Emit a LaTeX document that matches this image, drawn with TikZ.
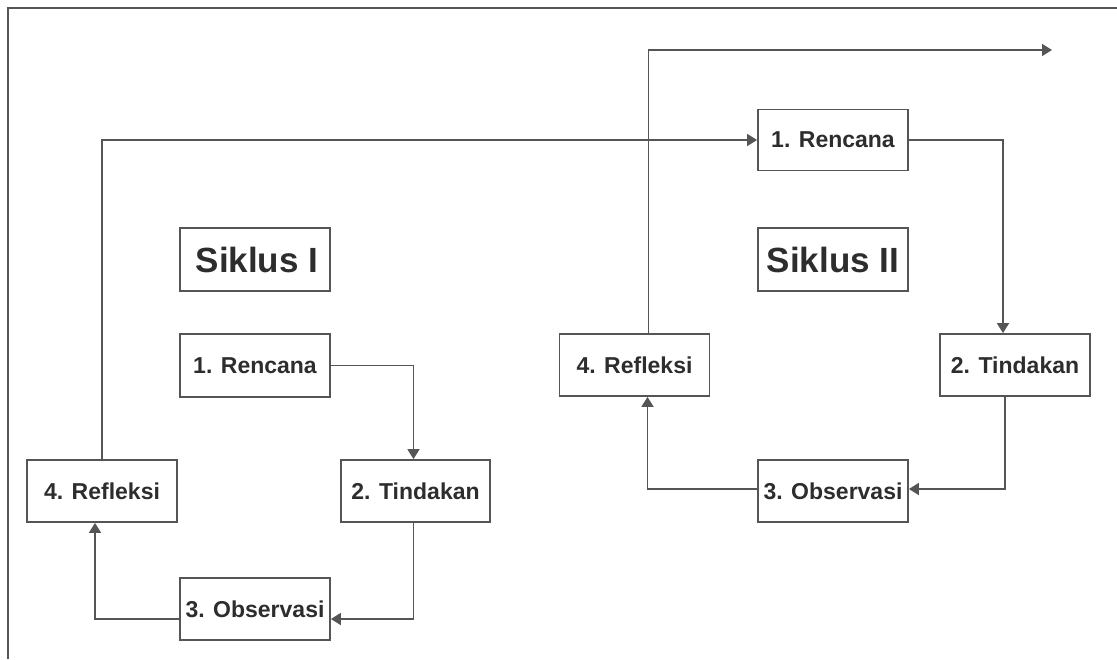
\documentclass[tikz,border=0pt]{standalone}
\usepackage{fontspec}
\setmainfont{Liberation Sans}
\usetikzlibrary{arrows.meta,calc}
\definecolor{linec}{RGB}{85,85,85}
\definecolor{textc}{RGB}{45,45,45}
\begin{document}
\begin{tikzpicture}[x=1pt,y=-1pt,
  box/.style={draw=linec,line width=1.8pt,minimum width=150pt,minimum height=62pt,inner sep=0pt,
    text=textc,font=\fontsize{23}{27}\selectfont\bfseries},
  title/.style={box,minimum height=63pt,font=\fontsize{35}{40}\selectfont\bfseries},
  conn/.style={draw=linec,line width=1.8pt},
  arr/.style={conn,-{Triangle[length=10pt,width=12pt]}}]
\useasboundingbox (0,0) rectangle (1117,659);
\draw[conn] (8,659) -- (8,8) -- (1117,8);
% Siklus I
\node[title] (s1) at (255,259.5) {\hspace*{4pt}Siklus I};
\node[box,minimum height=63pt] (r1) at (255,365.5) {1. Rencana};
\node[box,minimum width=149pt] (t1) at (415.5,491) {2. Tindakan};
\node[box] (o1) at (255,609) {3. Observasi};
\node[box] (f1) at (102,491) {4. Refleksi};
% Siklus II
\node[title] (s2) at (833,259.5) {Siklus II};
\node[box,minimum height=61pt] (r2) at (833,140) {1. Rencana};
\node[box] (t2) at (1015,365) {2. Tindakan};
\node[box] (o2) at (833,491) {3. Observasi};
\node[box] (f2) at (634.5,365) {4. Refleksi};
\coordinate (out) at (1052,50);
% connectors cycle I
\draw[arr] (r1.east) -| ($(t1.north)+(-2,0)$);
\draw[arr] ($(t1.south)+(-2,0)$) |- ($(o1.east)+(0,10)$);
\draw[arr] ($(o1.west)+(0,10)$) -| ($(f1.south)+(-7,0)$);
\draw[arr] (f1.north) |- (r2.west);
% connectors cycle II
\draw[arr] (r2.east) -| ($(t2.north)+(-12,0)$);
\draw[arr] ($(t2.south)+(-10,0)$) |- ($(o2.east)+(0,-2)$);
\draw[arr] ($(o2.west)+(0,-2)$) -| ($(f2.south)+(13,0)$);
\draw[arr] ($(f2.north)+(14,0)$) |- (out);
\end{tikzpicture}
\end{document}
